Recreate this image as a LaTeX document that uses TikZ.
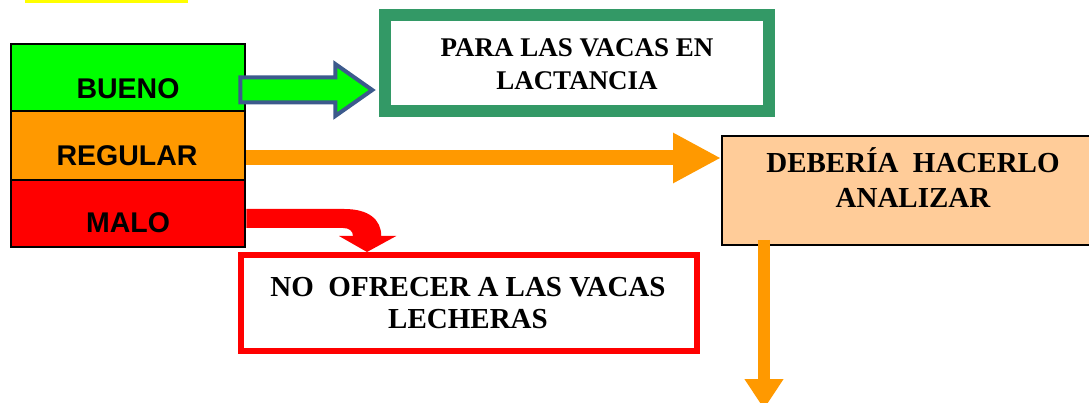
\documentclass[tikz,border=0pt]{standalone}
\usepackage{fontspec}
\setmainfont{Liberation Serif}
\newfontfamily\arialf{Liberation Sans}
\usetikzlibrary{arrows.meta,calc}
\definecolor{cgreen}{HTML}{00FF00}
\definecolor{corange}{HTML}{FF9900}
\definecolor{cred}{HTML}{FF0000}
\definecolor{cpeach}{HTML}{FFCC99}
\definecolor{cdkgreen}{HTML}{339966}
\definecolor{cblue}{RGB}{60,90,140}
\definecolor{cyellow}{HTML}{FFFF00}
\tikzset{
  stackbox/.style={draw=black, line width=2pt, minimum width=234pt, inner sep=0pt},
  lbl/.style={font=\arialf\bfseries\fontsize{28.5}{30}\selectfont, anchor=base, inner sep=0pt},
  stxt/.style={font=\bfseries\fontsize{29}{33}\selectfont, anchor=base, inner sep=0pt},
  gtxt/.style={font=\bfseries\fontsize{27}{33}\selectfont, anchor=base, inner sep=0pt},
  orarrow/.style={draw=corange, line width=15pt, -{Triangle[length=48pt,width=47pt]}},
  downarrow/.style={draw=corange, line width=12pt, -{Triangle[length=30pt,width=37pt]}},
}
\begin{document}
\begin{tikzpicture}[x=1pt,y=-1pt]
\useasboundingbox (0,0) rectangle (1089,403);
% yellow bar
\fill[cyellow] (25,0) rectangle (188,3);
% left stack
\node[stackbox, fill=cgreen, minimum height=67pt] (bueno) at (128.25,77.5) {};
\node[stackbox, fill=corange, minimum height=69pt] (regular) at (128.25,145.5) {};
\node[stackbox, fill=cred, minimum height=67pt] (malo) at (128.25,213.5) {};
\node[lbl] (tbueno) at (128,99) {BUENO};
\node[lbl] (tregular) at (127,166) {REGULAR};
\node[lbl] (tmalo) at (128,233) {MALO};
% green box
\node[draw=cdkgreen, line width=12pt, minimum width=384pt, minimum height=96pt, inner sep=0pt] (para) at (577,63) {};
\node[gtxt] (para1) at (577,57) {PARA LAS VACAS EN};
\node[gtxt] (para2) at (577,90) {LACTANCIA};
% peach box
\node[draw=black, fill=cpeach, line width=2pt, minimum width=373pt, minimum height=109pt, inner sep=0pt] (deb) at (908.5,190.5) {};
\node[stxt] (deb1) at (913,172.5) {DEBERÍA~ HACERLO};
\node[stxt] (deb2) at (913,208) {ANALIZAR};
% red box
\node[draw=cred, line width=6pt, minimum width=455.5pt, minimum height=96pt, inner sep=0pt] (nof) at (468.75,303) {};
\node[stxt] (nof1) at (468,296) {NO~ OFRECER A LAS VACAS};
\node[stxt] (nof2) at (468,328) {LECHERAS};
% blue block arrow BUENO -> PARA
\coordinate (ba) at ($(bueno.east)+(-6,12.5)$);
\draw[cblue, fill=cgreen, line width=4pt, line join=miter]
  (ba) ++(0,-12.5) -- ++(95,0) -- ++(0,-13.5) -- ++(37,26) -- ++(-37,26)
  -- ++(0,-13.5) -- ++(-95,0) -- cycle;
% orange arrow REGULAR -> DEB
\coordinate (rs) at ($(regular.east)+(0,12.5)$);
\draw[orarrow] (rs) -- (rs -| deb.west);
% orange arrow down from DEB
\coordinate (ds) at ($(deb.south west)+(43,-6)$);
\coordinate (de) at ($(ds)+(0,169)$);
\draw[downarrow] (ds) -- (de);
% red bent arrow MALO -> NO OFRECER
\coordinate (ms) at ($(malo.east)+(0,-4.5)$);
\fill[cred] (ms) -- ++(98,0) .. controls +(25,0) and +(0,-16) .. ++(37,27)
  -- ++(15,0) -- ($(nof.north)+(-101.75,0)$) -- ++(-28,-16) -- ++(14,0)
  .. controls +(0,-5) and +(6,0) .. ++(-10,-8) -- ($(ms)+(0,19)$) -- cycle;
\end{tikzpicture}
\end{document}
